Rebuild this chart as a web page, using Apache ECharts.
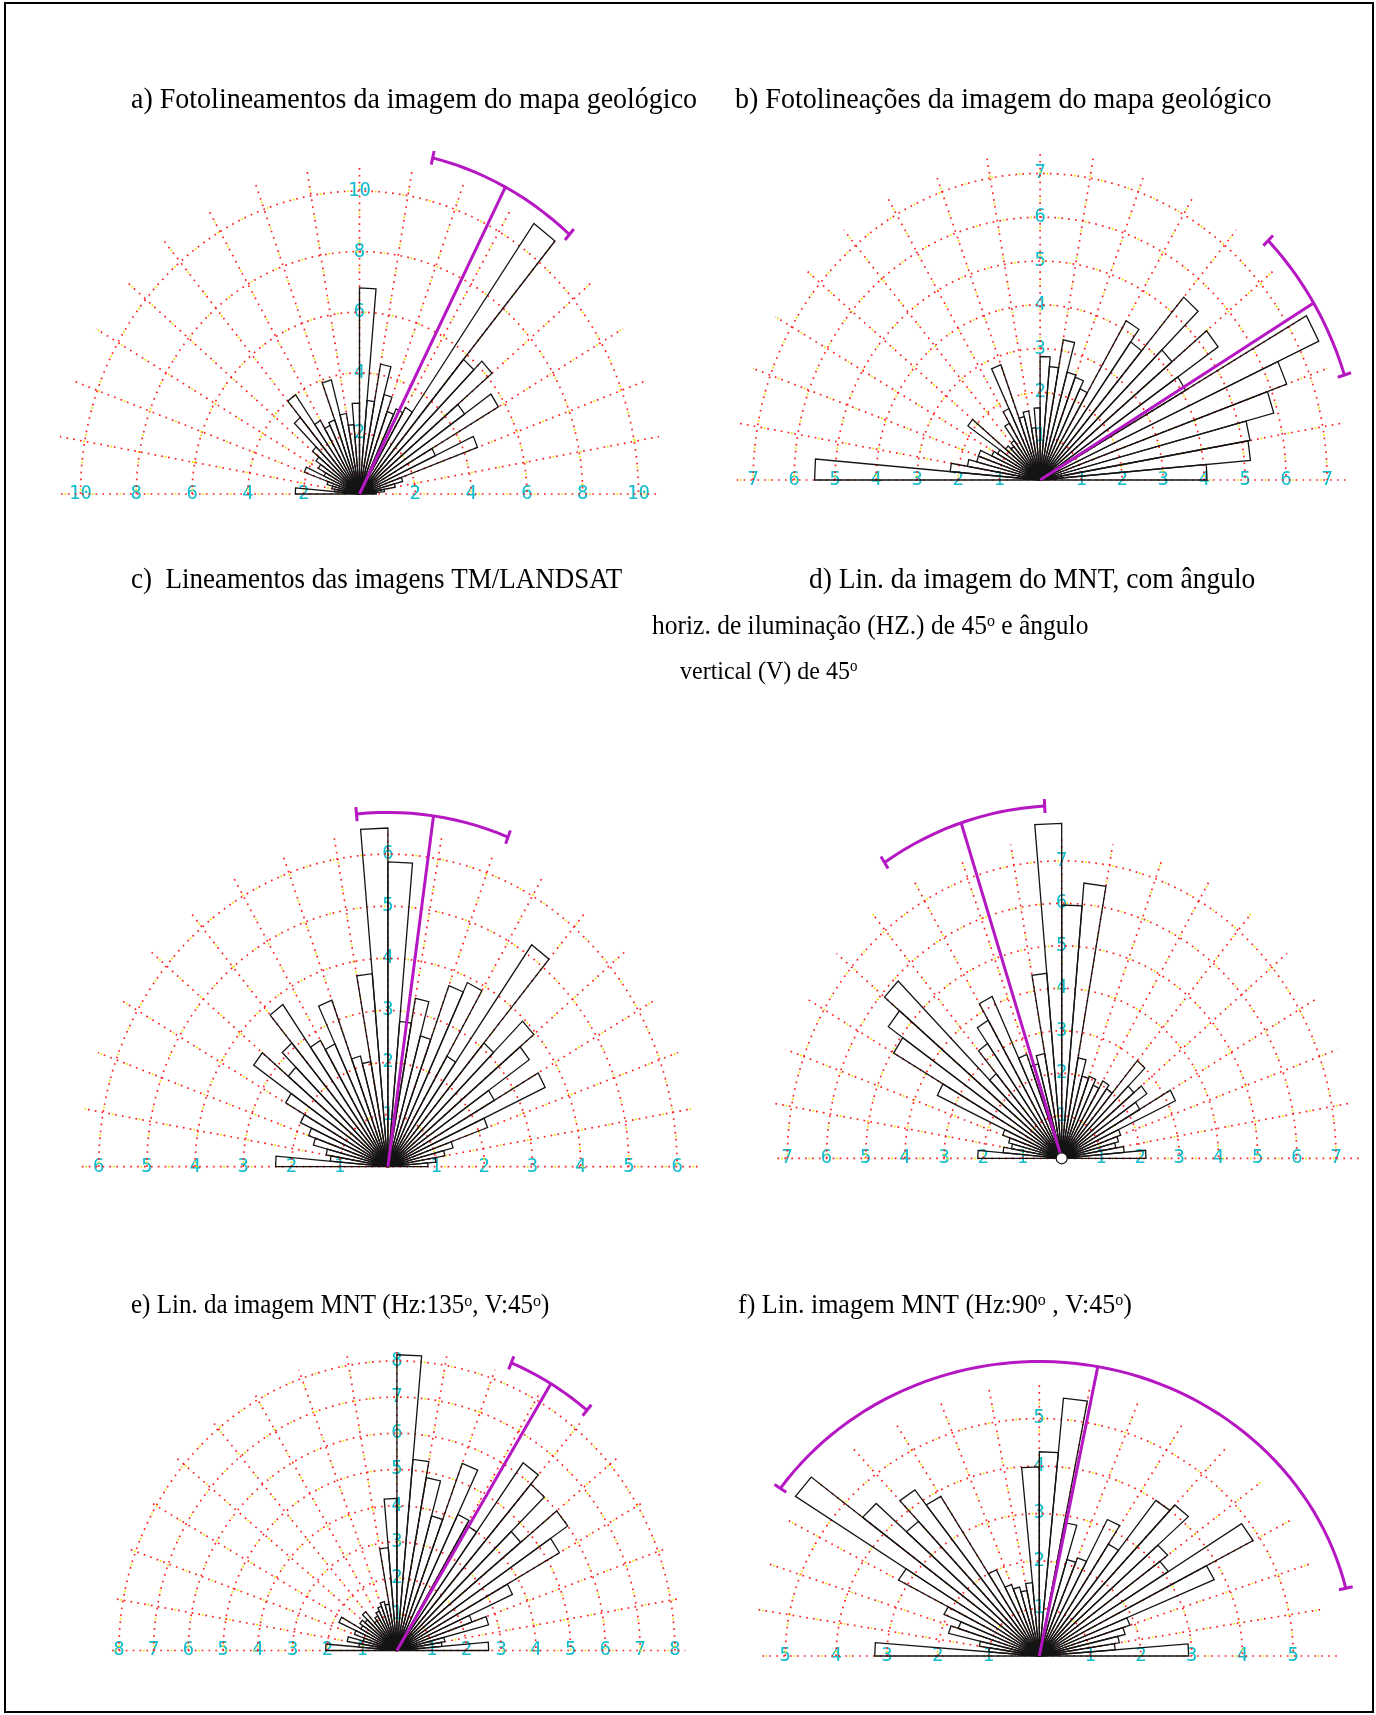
<!DOCTYPE html>
<html>
<head>
<meta charset="utf-8">
<script src="https://cdn.jsdelivr.net/npm/echarts@6/dist/echarts.min.js"></script>
<style>
html, body { margin: 0; padding: 0; background: #fff; }
#chart { width: 1376px; height: 1715px; }
</style>
</head>
<body>
<div id="chart"></div>
<script>
// Direction classes of 5°, from W (-90) through N (0) to E (+90)
const binStarts = [-90, -85, -80, -75, -70, -65, -60, -55, -50, -45, -40, -35, -30, -25, -20, -15, -10, -5,
                   0, 5, 10, 15, 20, 25, 30, 35, 40, 45, 50, 55, 60, 65, 70, 75, 80, 85];
const binWidth = 5;

// Frequency (%) per class for each rose diagram
const roseA = [2.3, 0.9, 1.0, 1.2, 2.1, 1.4, 1.7, 1.9, 2.2, 3.3, 4.0, 2.8, 2.5, 2.6, 3.9, 2.7, 2.3, 3.0,
               6.8, 3.1, 4.35, 3.4, 2.9, 3.1, 3.3, 10.9, 5.8, 6.2, 4.6, 5.75, 3.0, 4.5, 1.6, 1.3, 0.9, 0.6];
const roseB = [5.5, 2.2, 1.8, 1.6, 1.6, 1.3, 1.2, 2.15, 1.1, 1.0, 1.1, 1.5, 1.8, 2.8, 1.5, 1.6, 1.2, 1.65,
               2.82, 2.6, 3.25, 2.55, 2.5, 2.3, 4.2, 3.85, 5.45, 4.2, 5.3, 4.1, 7.5, 6.4, 5.9, 5.2, 5.15, 4.07];
const roseC = [2.33, 1.2, 1.3, 1.6, 1.75, 2.0, 2.45, 3.4, 2.7, 3.1, 3.8, 2.8, 2.6, 3.4, 2.2, 2.05, 3.72, 6.5,
               5.85, 2.8, 3.28, 2.6, 3.7, 3.9, 2.45, 5.2, 3.1, 3.95, 3.58, 2.55, 3.6, 2.2, 1.4, 1.2, 1.0, 0.83];
const roseD = [2.14, 1.5, 1.3, 1.4, 1.6, 3.5, 4.95, 5.4, 5.9, 2.6, 3.3, 3.75, 4.2, 2.6, 2.3, 2.5, 4.37, 7.88,
               5.96, 6.5, 2.4, 2.0, 2.05, 1.9, 2.1, 2.0, 3.0, 2.4, 2.65, 2.3, 3.2, 1.6, 1.5, 1.4, 1.6, 2.15];
const roseE = [2.05, 1.1, 1.45, 1.0, 1.3, 1.84, 1.2, 1.3, 1.2, 1.4, 1.0, 1.1, 1.2, 1.3, 1.4, 1.3, 2.85, 4.2,
               8.17, 5.3, 4.85, 3.85, 5.5, 4.15, 4.0, 6.33, 6.0, 4.65, 6.0, 5.4, 3.67, 2.3, 2.73, 1.4, 1.3, 2.64];
const roseF = [3.24, 1.0, 1.2, 1.85, 1.7, 2.07, 3.2, 5.86, 4.54, 3.7, 4.27, 3.88, 2.0, 1.6, 1.5, 1.4, 1.55, 3.98,
               4.3, 5.45, 2.85, 2.1, 2.2, 3.17, 2.72, 4.0, 4.15, 3.3, 3.1, 4.86, 3.8, 1.9, 1.75, 1.6, 1.5, 2.94];

// Mean direction (degrees from N), half-width of its confidence arc, and drawn length
const meanDirection = [27.3, 58.8, 8.0, -18.0, 31.0, 10.7];
const meanHalfArc   = [14.0, 13.3, 13.5, 15.0, 8.5, 66.0];
const meanLength    = [11.4, 7.8, 6.8, 8.3, 8.6, 6.2];

// Frequency circles (also the tick labels on both axes)
const ringsA = [2, 4, 6, 8, 10];
const ringsB = [1, 2, 3, 4, 5, 6, 7];
const ringsC = [1, 2, 3, 4, 5, 6];
const ringsD = [1, 2, 3, 4, 5, 6, 7];
const ringsE = [1, 2, 3, 4, 5, 6, 7, 8];
const ringsF = [1, 2, 3, 4, 5];

// Radial guide lines every 10°
const spokeAngles = [-80, -70, -60, -50, -40, -30, -20, -10, 0, 10, 20, 30, 40, 50, 60, 70, 80];

// Panel captions
const titleA = 'a) Fotolineamentos da imagem do mapa geológico';
const titleB = 'b) Fotolineações da imagem do mapa geológico';
const titleC = 'c)  Lineamentos das imagens TM/LANDSAT';
const titleD1 = 'd) Lin. da imagem do MNT, com ângulo';
const titleD2 = 'horiz. de iluminação (HZ.) de 45{sup|o} e ângulo';
const titleD3 = 'vertical (V) de 45{sup|o}';
const titleE = 'e) Lin. da imagem MNT (Hz:135{sup|o}, V:45{sup|o})';
const titleF = 'f) Lin. imagem MNT (Hz:90{sup|o} , V:45{sup|o})';

// Layout of each rose: centre (px), px per unit along x / y, outer value, tick step
const panels = [
  { rose: roseA, rings: ringsA, cx: 359.5, cy: 494,    sx: 27.9, sy: 30.3, R: 10, step: 2, axisL: -10.7, axisR: 10.8, spoke: 10.9, hub: false },
  { rose: roseB, rings: ringsB, cx: 1040.1, cy: 480,   sx: 41.0, sy: 43.8, R: 7,  step: 1, axisL: -7.4,  axisR: 7.5,  spoke: 7.45, hub: false },
  { rose: roseC, rings: ringsC, cx: 387.9, cy: 1166.7, sx: 48.2, sy: 52.1, R: 6,  step: 1, axisL: -6.35, axisR: 6.45, spoke: 6.4,  hub: false },
  { rose: roseD, rings: ringsD, cx: 1061.7, cy: 1158.3, sx: 39.2, sy: 42.5, R: 7, step: 1, axisL: -7.25, axisR: 7.6,  spoke: 7.5,  hub: true },
  { rose: roseE, rings: ringsE, cx: 396.9, cy: 1650.5, sx: 34.75, sy: 36.2, R: 8, step: 1, axisL: -8.2,  axisR: 8.3,  spoke: 8.25, hub: false },
  { rose: roseF, rings: ringsF, cx: 1039.3, cy: 1656,  sx: 50.8, sy: 47.5, R: 5,  step: 1, axisL: -5.45, axisR: 5.9,  spoke: 5.7,  hub: false }
];

const RED = '#ff2020';
const YELLOW = '#f2e400';
const MAGENTA = '#b517c2';
const LABEL = '#12bccb';
const DEG = Math.PI / 180;

function polar(api, r, deg) {
  const t = deg * DEG;
  return api.coord([r * Math.sin(t), r * Math.cos(t)]);
}

// Red dotted guide with an occasional yellow dot
function dotted(shape) {
  return [
    { type: 'polyline', shape: shape, style: { fill: 'none', stroke: RED, lineWidth: 1.7, lineDash: [1.7, 5.2] } },
    { type: 'polyline', shape: shape, style: { fill: 'none', stroke: YELLOW, lineWidth: 1.7, lineDash: [1.7, 25.9], lineDashOffset: -3.45 } }
  ];
}

function ringItem(params, api) {
  const r = api.value(0);
  const pts = [];
  for (let a = -90; a <= 90; a += 2) pts.push(polar(api, r, a));
  return { type: 'group', children: dotted({ points: pts }) };
}

function spokeItem(params, api) {
  const a = api.value(0), len = api.value(1);
  return { type: 'group', children: dotted({ points: [polar(api, 0, a), polar(api, len, a)] }) };
}

function axisItem(params, api) {
  const l = api.coord([api.value(0), 0]);
  const r = api.coord([api.value(1), 0]);
  return { type: 'group', children: dotted({ points: [l, r] }) };
}

function wedgeItem(params, api) {
  const a0 = api.value(0), r = api.value(1);
  const c = api.coord([0, 0]);
  return {
    type: 'polygon',
    shape: { points: [c, polar(api, r, a0), polar(api, r, a0 + binWidth)] },
    style: { fill: 'none', stroke: '#141414', lineWidth: 1.3, lineJoin: 'miter' }
  };
}

function hubItem(params, api) {
  const c = api.coord([0, 0]);
  return { type: 'circle', shape: { cx: c[0], cy: c[1], r: 5.5 }, style: { fill: '#fff', stroke: '#141414', lineWidth: 1.2 } };
}

function meanItem(params, api) {
  const dir = api.value(0), half = api.value(1), len = api.value(2);
  const c = api.coord([0, 0]);
  const tip = polar(api, len, dir);
  const arc = [];
  const n = Math.max(8, Math.round(half));
  for (let k = 0; k <= n; k++) arc.push(polar(api, len, dir - half + (2 * half) * k / n));
  const caps = [arc[0], arc[arc.length - 1]].map(function (p) {
    const dx = p[0] - c[0], dy = p[1] - c[1], d = Math.hypot(dx, dy);
    const ux = dx / d * 7, uy = dy / d * 7;
    return { type: 'line', shape: { x1: p[0] - ux, y1: p[1] - uy, x2: p[0] + ux, y2: p[1] + uy },
             style: { stroke: MAGENTA, lineWidth: 3 } };
  });
  return {
    type: 'group',
    children: [
      { type: 'line', shape: { x1: c[0], y1: c[1], x2: tip[0], y2: tip[1] }, style: { stroke: MAGENTA, lineWidth: 3 } },
      { type: 'polyline', shape: { points: arc }, style: { fill: 'none', stroke: MAGENTA, lineWidth: 3 } }
    ].concat(caps)
  };
}

const labelStyle = { color: LABEL, fontFamily: 'DejaVu Sans Mono', fontSize: 19 };

const grids = [], xAxes = [], yAxes = [], series = [];
panels.forEach(function (p, i) {
  grids.push({ left: p.cx - p.R * p.sx, top: p.cy - p.R * p.sy, width: 2 * p.R * p.sx, height: p.R * p.sy });
  xAxes.push({
    type: 'value', gridIndex: i, min: -p.R, max: p.R, interval: p.step,
    axisLine: { show: false }, axisTick: { show: false }, splitLine: { show: false },
    axisLabel: Object.assign({ margin: 0, verticalAlign: 'middle', showMinLabel: true, showMaxLabel: true,
      formatter: function (v) { return v === 0 ? '' : String(Math.abs(v)); } }, labelStyle)
  });
  // vertical scale sits on the N–S line through the centre
  yAxes.push({
    type: 'value', gridIndex: i, min: 0, max: p.R, interval: p.step, position: 'left', offset: -p.R * p.sx,
    axisLine: { show: false }, axisTick: { show: false }, splitLine: { show: false },
    axisLabel: Object.assign({ margin: 0, align: 'center', verticalAlign: 'middle', showMaxLabel: true,
      formatter: function (v) { return v === 0 ? '' : String(v); } }, labelStyle)
  });
  const common = { type: 'custom', xAxisIndex: i, yAxisIndex: i, clip: false, silent: true, animation: false };
  series.push(Object.assign({ renderItem: ringItem, data: p.rings.map(function (v) { return [v]; }), z: 1 }, common));
  series.push(Object.assign({ renderItem: spokeItem, data: spokeAngles.map(function (a) { return [a, p.spoke]; }), z: 1 }, common));
  series.push(Object.assign({ renderItem: axisItem, data: [[p.axisL, p.axisR]], z: 1 }, common));
  series.push(Object.assign({ renderItem: wedgeItem, data: binStarts.map(function (b, k) { return [b, p.rose[k]]; }), z: 3 }, common));
  series.push(Object.assign({ renderItem: meanItem, data: [[meanDirection[i], meanHalfArc[i], meanLength[i]]], z: 4 }, common));
  if (p.hub) series.push(Object.assign({ renderItem: hubItem, data: [[0, 0]], z: 5 }, common));
});

function caption(text, x, y, size) {
  return {
    type: 'text', x: x, y: y, scaleY: 1.08,
    style: {
      text: text, fill: '#000', fontFamily: 'Liberation Serif', fontSize: size, verticalAlign: 'middle',
      rich: { sup: { fontFamily: 'Liberation Serif', fontSize: Math.round(size * 0.62), verticalAlign: 'top', fill: '#000' } }
    }
  };
}

const chart = echarts.init(document.getElementById('chart'), null, { renderer: 'canvas' });
chart.setOption({
  animation: false,
  backgroundColor: '#fff',
  grid: grids,
  xAxis: xAxes,
  yAxis: yAxes,
  series: series,
  graphic: [
    { type: 'rect', shape: { x: 5, y: 3, width: 1368, height: 1709 }, style: { fill: 'none', stroke: '#000', lineWidth: 2 } },
    caption(titleA, 131, 100, 28),
    caption(titleB, 735, 100, 28),
    caption(titleC, 131, 580, 27),
    caption(titleD1, 809, 580, 27.5),
    caption(titleD2, 652, 627, 25.5),
    caption(titleD3, 680, 672, 24),
    caption(titleE, 131, 1306, 25),
    caption(titleF, 738, 1306, 26)
  ]
});
</script>
</body>
</html>
